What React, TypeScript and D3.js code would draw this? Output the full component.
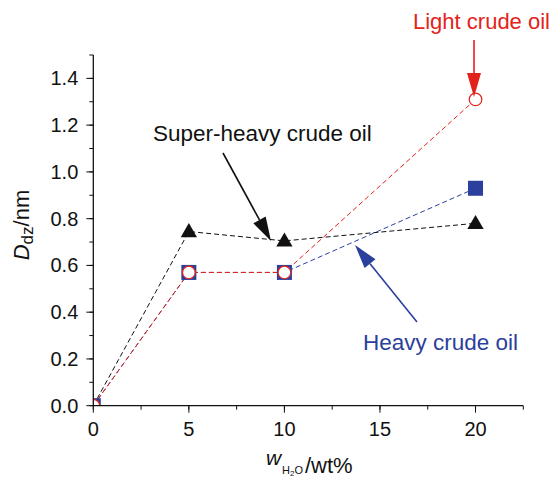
import React from 'react';
import * as d3 from 'd3';

const water = [0, 5, 10, 20];
const lightOil = [0, 0.57, 0.57, 1.31];
const heavyOil = [0, 0.57, 0.57, 0.93];
const superHeavyOil = [0, 0.745, 0.705, 0.78];
const xTicks = [0, 5, 10, 15, 20];
const yTicks = [0, 0.2, 0.4, 0.6, 0.8, 1.0, 1.2, 1.4];

const W = 554, H = 478;
const x = d3.scaleLinear().domain([0, 22.5]).range([93.3, 523.3]);
const y = d3.scaleLinear().domain([0, 1.5]).range([405.7, 55]);

const FONT = "'Liberation Sans', Arial, sans-serif";
const RED = '#e2231a';
const BLUE = '#2b3f9c';
const BLACK = '#111';

function Arrow({ x1, y1, x2, y2, color }: { x1: number; y1: number; x2: number; y2: number; color: string }) {
  const len = Math.hypot(x2 - x1, y2 - y1);
  const ux = (x2 - x1) / len, uy = (y2 - y1) / len;
  const hl = 24, hw = 7;
  const bx = x2 - ux * hl, by = y2 - uy * hl;
  const pts = [
    [x2, y2],
    [bx - uy * hw, by + ux * hw],
    [bx + uy * hw, by - ux * hw],
  ];
  return (
    <g>
      <line x1={x1} y1={y1} x2={bx} y2={by} stroke={color} strokeWidth={1.6} />
      <polygon points={pts.map(p => p.join(',')).join(' ')} fill={color} />
    </g>
  );
}

export default function App() {
  const line = (vals: number[]) =>
    d3.line<number>().x((_, i) => x(water[i])).y(d => y(d))(vals) || '';
  const xMinor = d3.range(0, 22.6, 2.5);
  const yMinor = d3.range(0, 1.51, 0.1);
  const tri = d3.symbol().type(d3.symbolTriangle).size(115)() || '';

  return (
    <svg width={W} height={H} style={{ position: 'absolute', left: 0, top: 0 }} fontFamily={FONT}>
      <defs>
        <clipPath id="plot">
          <rect x={x(0)} y={y(1.5)} width={x(22.5) - x(0)} height={y(0) - y(1.5)} />
        </clipPath>
      </defs>
      <rect width={W} height={H} fill="white" />

      <g clipPath="url(#plot)">
        <path d={line(superHeavyOil)} fill="none" stroke={BLACK} strokeWidth={1} strokeDasharray="5,3" />
        <path d={line(heavyOil)} fill="none" stroke={BLUE} strokeWidth={1} strokeDasharray="5,3" />
        <path d={line(lightOil)} fill="none" stroke={RED} strokeWidth={1} strokeDasharray="5,3" />
        {superHeavyOil.map((v, i) => (
          <path key={'t' + i} d={tri} transform={`translate(${x(water[i])},${y(v) + 1})`} fill={BLACK} />
        ))}
        {heavyOil.map((v, i) => (
          <rect key={'s' + i} x={x(water[i]) - 7.5} y={y(v) - 7.5} width={15} height={15} fill={BLUE} />
        ))}
        {lightOil.map((v, i) => (
          <circle key={'c' + i} cx={x(water[i])} cy={y(v)} r={6.3} fill="white" stroke={RED} strokeWidth={1.2} />
        ))}
      </g>

      {/* axes */}
      <line x1={x(0)} x2={x(0)} y1={y(0)} y2={y(1.5)} stroke={BLACK} strokeWidth={1.3} />
      <line x1={x(0)} x2={x(22.5)} y1={y(0)} y2={y(0)} stroke={BLACK} strokeWidth={1.3} />
      {yMinor.map((t, i) => (
        <line key={'ym' + i} x1={x(0)} x2={x(0) - 4} y1={y(t)} y2={y(t)} stroke={BLACK} strokeWidth={1} />
      ))}
      {yTicks.map(t => (
        <g key={'y' + t}>
          <line x1={x(0)} x2={x(0) - 7} y1={y(t)} y2={y(t)} stroke={BLACK} strokeWidth={1} />
          <text x={x(0) - 15} y={y(t) + 7} textAnchor="end" fontSize={20} fill={BLACK}>
            {d3.format('.1f')(t)}
          </text>
        </g>
      ))}
      {xMinor.map((t, i) => (
        <line key={'xm' + i} x1={x(t)} x2={x(t)} y1={y(0)} y2={y(0) + 4} stroke={BLACK} strokeWidth={1} />
      ))}
      {xTicks.map(t => (
        <g key={'x' + t}>
          <line x1={x(t)} x2={x(t)} y1={y(0)} y2={y(0) + 7} stroke={BLACK} strokeWidth={1} />
          <text x={x(t)} y={y(0) + 30} textAnchor="middle" fontSize={20} fill={BLACK}>{t}</text>
        </g>
      ))}

      {/* axis titles */}
      <text transform="translate(28.5,225) rotate(-90)" textAnchor="middle" fontSize={22} fill={BLACK}>
        <tspan fontStyle="italic">D</tspan>
        <tspan fontSize={17} dy={4}>dz</tspan>
        <tspan dy={-4}>/nm</tspan>
      </text>
      <text x={266} y={465} fontSize={21} fontStyle="italic" fill={BLACK}>w</text>
      <text x={282} y={474} fontSize={11} fill={BLACK}>
        H<tspan fontSize={8} dy={2}>2</tspan><tspan dy={-2}>O</tspan>
      </text>
      <text x={305} y={473} fontSize={22} fill={BLACK}>/wt%</text>

      {/* annotations */}
      <text x={413} y={29} fontSize={22} fill={RED}>Light crude oil</text>
      <Arrow x1={474} y1={40} x2={474} y2={97} color={RED} />

      <text x={153} y={141} fontSize={22.5} fill={BLACK}>Super-heavy crude oil</text>
      <Arrow x1={223} y1={153} x2={271} y2={241} color={BLACK} />

      <text x={363} y={350} fontSize={22.5} fill={BLUE}>Heavy crude oil</text>
      <Arrow x1={417} y1={322} x2={355} y2={245} color={BLUE} />
    </svg>
  );
}
